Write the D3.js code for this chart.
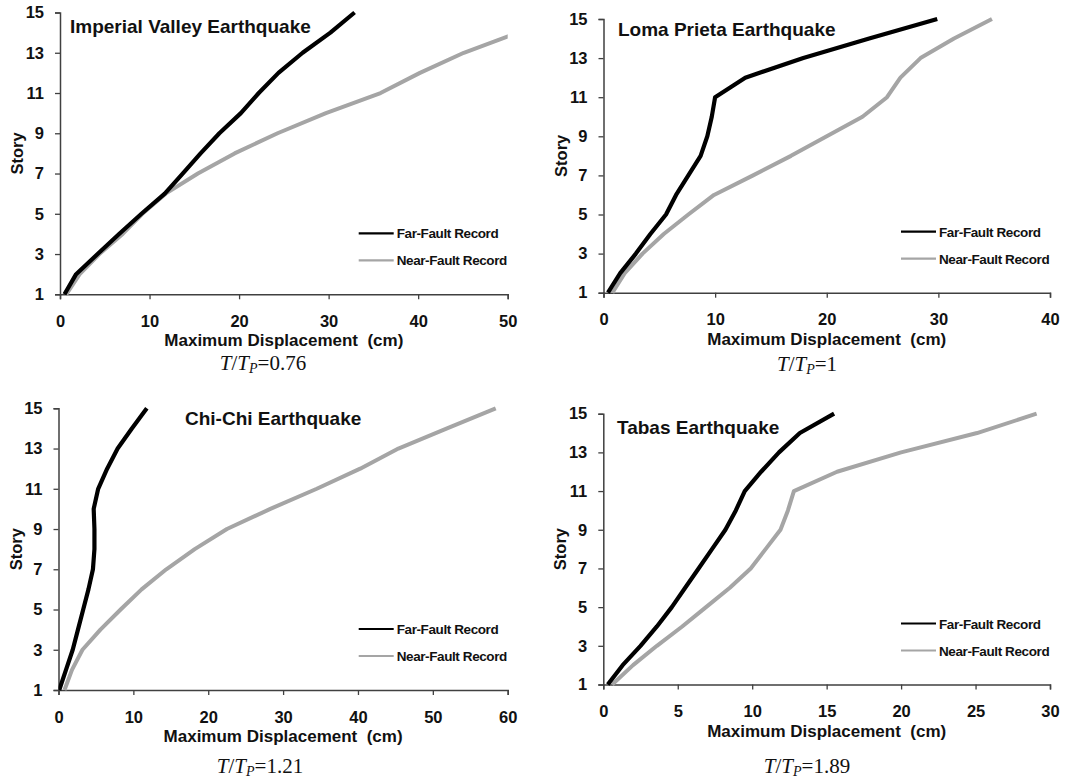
<!DOCTYPE html>
<html>
<head>
<meta charset="utf-8">
<script src="https://cdn.jsdelivr.net/npm/d3@7"></script>
<style>
  body { margin: 0; background: #fff; }
  svg text { font-family: Arial, "Liberation Sans", sans-serif; }
</style>
</head>
<body>
<svg width="1073" height="779"></svg>
<script>
// stories (y categories) and tick labels
var stories = [1, 2, 3, 4, 5, 6, 7, 8, 9, 10, 11, 12, 13, 14, 15];
var storyTicks = [1, 3, 5, 7, 9, 11, 13, 15];

// maximum displacement (cm) per story
var imperialFar  = [0.5, 1.8, 4.2, 6.6, 9.1, 11.7, 13.7, 15.7, 17.8, 20.2, 22.2, 24.4, 27.1, 30.2, 32.9];
var imperialNear = [0.7, 2.2, 4.4, 7.0, 9.2, 11.8, 15.4, 19.5, 24.3, 29.7, 35.8, 40.2, 45.1, 51.2, 57.0];
var lomaFar  = [0.4, 1.5, 2.9, 4.2, 5.6, 6.5, 7.6, 8.7, 9.3, 9.7, 10.0, 12.7, 17.9, 23.8, 29.9];
var lomaNear = [0.8, 1.9, 3.5, 5.4, 7.6, 9.9, 13.4, 16.8, 20.0, 23.2, 25.4, 26.6, 28.4, 31.4, 34.8];
var chiFar  = [0.1, 1.0, 1.9, 2.6, 3.3, 4.0, 4.6, 4.8, 4.8, 4.7, 5.3, 6.5, 7.9, 9.8, 11.8];
var chiNear = [0.8, 1.8, 3.2, 5.6, 8.3, 11.1, 14.4, 18.2, 22.5, 28.3, 34.5, 40.3, 45.4, 51.9, 58.4];
var tabasFar  = [0.3, 1.3, 2.5, 3.6, 4.6, 5.5, 6.4, 7.3, 8.2, 8.9, 9.5, 10.6, 11.8, 13.2, 15.5];
var tabasNear = [0.6, 2.0, 3.6, 5.3, 6.9, 8.5, 9.9, 10.9, 11.9, 12.4, 12.8, 15.7, 20.0, 25.1, 29.1];

var titles = ["Imperial Valley Earthquake", "Loma Prieta Earthquake", "Chi-Chi Earthquake", "Tabas Earthquake"];
var ratios = ["0.76", "1", "1.21", "1.89"];
var xTicks = [[0, 10, 20, 30, 40, 50], [0, 10, 20, 30, 40], [0, 10, 20, 30, 40, 50, 60], [0, 5, 10, 15, 20, 25, 30]];
var seriesNames = ["Far-Fault Record", "Near-Fault Record"];

// layout of the four panels
var panels = [
  {left: 60,    right: 507.7, top: 12.5,  bottom: 294.3, titleX: 70,  titleY: 33,  capX: 263, capY: 370, far: imperialFar, near: imperialNear},
  {left: 603.5, right: 1050,  top: 19,    bottom: 292.7, titleX: 618, titleY: 36,  capX: 807, capY: 371, far: lomaFar,     near: lomaNear},
  {left: 58.5,  right: 507.7, top: 408.3, bottom: 690,   titleX: 185, titleY: 425, capX: 260, capY: 773, far: chiFar,      near: chiNear},
  {left: 603.3, right: 1050,  top: 413.7, bottom: 684.5, titleX: 617, titleY: 434, capX: 807, capY: 773, far: tabasFar,    near: tabasNear}
];

var farColor = "#000", nearColor = "#a5a5a5", axisColor = "#404040";
var svg = d3.select("svg");

panels.forEach(function(p, i) {
  var ticks = xTicks[i];
  var x = d3.scaleLinear().domain([0, ticks[ticks.length - 1]]).range([p.left, p.right]);
  var y = d3.scaleLinear().domain([1, 15]).range([p.bottom, p.top]);
  var g = svg.append("g");

  g.append("clipPath").attr("id", "clip" + i)
    .append("rect")
      .attr("x", p.left).attr("y", p.top - 5)
      .attr("width", p.right - p.left).attr("height", p.bottom - p.top + 10);

  // axes
  var xAxis = g.append("g")
      .attr("transform", "translate(0," + p.bottom + ")")
      .call(d3.axisBottom(x).tickValues(ticks).tickSize(5).tickPadding(16).tickSizeOuter(5).tickFormat(d3.format("d")));
  var yAxis = g.append("g")
      .attr("transform", "translate(" + p.left + ",0)")
      .call(d3.axisLeft(y).tickValues(storyTicks).tickSize(5).tickPadding(11).tickSizeOuter(5).tickFormat(d3.format("d")));
  [xAxis, yAxis].forEach(function(a) {
    a.select(".domain").attr("stroke", axisColor).attr("stroke-width", 1.5);
    a.selectAll(".tick line").attr("stroke", axisColor).attr("stroke-width", 1.3);
    a.selectAll(".tick text")
      .attr("fill", "#111")
      .style("font-size", "16.5px").style("font-weight", "bold")
      .style("font-family", "Arial, 'Liberation Sans', sans-serif");
  });

  // lines
  var line = d3.line()
      .x(function(d) { return x(d[0]); })
      .y(function(d) { return y(d[1]); });
  var lg = g.append("g").attr("clip-path", "url(#clip" + i + ")");
  lg.append("path")
      .datum(d3.zip(p.near, stories))
      .attr("fill", "none")
      .attr("stroke", nearColor)
      .attr("stroke-width", 4)
      .attr("stroke-linejoin", "round")
      .attr("d", line);
  lg.append("path")
      .datum(d3.zip(p.far, stories))
      .attr("fill", "none")
      .attr("stroke", farColor)
      .attr("stroke-width", 4.2)
      .attr("stroke-linejoin", "round")
      .attr("d", line);

  // titles and labels
  g.append("text")
      .attr("x", p.titleX).attr("y", p.titleY)
      .style("font-size", "19px").style("font-weight", "bold")
      .attr("fill", "#111")
      .text(titles[i]);

  g.append("text")
      .attr("x", (p.left + p.right) / 2).attr("y", p.bottom + 52)
      .attr("text-anchor", "middle")
      .style("font-size", "17px").style("font-weight", "bold")
      .style("white-space", "pre")
      .attr("fill", "#111")
      .text("Maximum Displacement  (cm)");

  g.append("text")
      .attr("transform", "translate(" + (p.left - 37) + "," + ((p.top + p.bottom) / 2) + ") rotate(-90)")
      .attr("text-anchor", "middle")
      .style("font-size", "16.5px").style("font-weight", "bold")
      .attr("fill", "#111")
      .text("Story");

  // legend
  var legend = g.append("g");
  [farColor, nearColor].forEach(function(c, k) {
    var ly = p.bottom - 61 + k * 27;
    legend.append("line")
        .attr("x1", p.right - 149).attr("x2", p.right - 114)
        .attr("y1", ly).attr("y2", ly)
        .attr("stroke", c).attr("stroke-width", 2.2);
    legend.append("text")
        .attr("x", p.right - 111).attr("y", ly + 5)
        .style("font-size", "13.5px").style("font-weight", "bold")
        .style("letter-spacing", "-0.4px")
        .attr("fill", "#111")
        .text(seriesNames[k]);
  });

  // caption T/Tp
  var cap = g.append("text")
      .attr("x", p.capX).attr("y", p.capY)
      .attr("text-anchor", "middle")
      .style("font-family", "'Times New Roman', 'Liberation Serif', serif")
      .style("font-size", "21px")
      .attr("fill", "#111");
  cap.append("tspan").style("font-style", "italic").text("T");
  cap.append("tspan").text("/");
  cap.append("tspan").style("font-style", "italic").text("T");
  cap.append("tspan").style("font-style", "italic").style("font-size", "14px").attr("dy", 3).text("P");
  cap.append("tspan").attr("dy", -3).text("=" + ratios[i]);
});
</script>
</body>
</html>
